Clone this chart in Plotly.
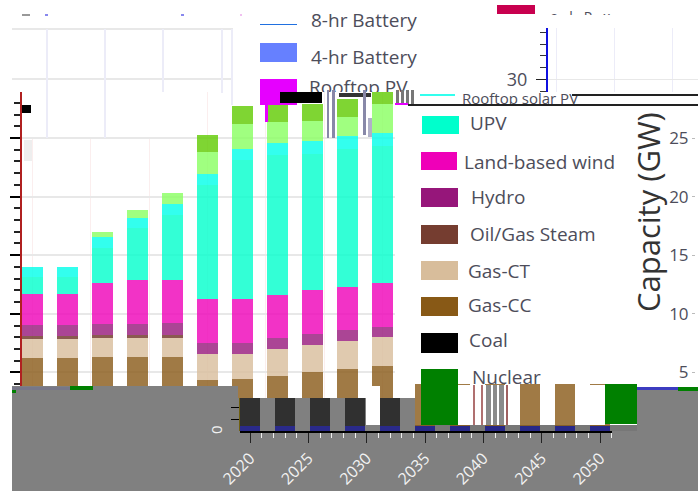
import plotly.graph_objects as go

# ---------- data (GW, stacked increments) ----------
years = [2020, 2023, 2026, 2029, 2032, 2035, 2038, 2041, 2044, 2047, 2050]
nuclear = [0.45] * 11
coal = [2.35, 2.35, 2.35, 2.35, 2.35, 0, 0, 0, 0, 0, 0]
gas_cc = [3.46, 3.46, 3.52, 3.52, 3.55, 3.91, 3.96, 4.25, 4.59, 4.87, 5.13]
gas_ct = [1.57, 1.57, 1.59, 1.59, 1.56, 2.21, 2.16, 2.30, 2.27, 2.36, 2.42]
oil_gas = [0.31, 0.31, 0.29, 0.29, 0.29, 0, 0, 0, 0, 0, 0]
hydro = [0.91, 0.91, 0.96, 0.96, 0.99, 0.91, 0.97, 0.97, 0.94, 0.97, 0.91]
wind = [2.64, 2.64, 3.50, 3.70, 3.67, 3.76, 3.70, 3.67, 3.76, 3.64, 3.69]
upv = [1.43, 1.43, 2.99, 4.47, 5.55, 9.76, 11.89, 11.91, 11.66, 11.75, 11.72]
solar_b = [0.85, 0.85, 0.88, 0.88, 0.99, 0.96, 0.96, 1.00, 1.08, 1.11, 1.11]
other_a = [0, 0, 0.43, 0.65, 0.91, 1.88, 2.14, 1.79, 1.68, 1.65, 2.45]
other_b = [0, 0, 0, 0, 0, 1.42, 1.53, 1.48, 1.50, 1.50, 1.08]

series = [
    ("Nuclear", nuclear, "#14148c"), ("Coal", coal, "#1c1c1c"),
    ("Gas-CC", gas_cc, "#885916"), ("Gas-CT", gas_ct, "#d8bd9b"),
    ("Oil/Gas Steam", oil_gas, "#6d3124"), ("Hydro", hydro, "#96167a"),
    ("Land-based wind", wind, "#ef00b8"), ("UPV", upv, "#00ffcc"),
    ("Rooftop PV", solar_b, "#00ffea"), ("Other A", other_a, "#88ff60"),
    ("Other B", other_b, "#5fcb00"),
]
year_ticks = [2020, 2025, 2030, 2035, 2040, 2045, 2050]

W, H = 698, 491
PX_YEAR = 35 / 3
PX_GW = 11.72
Y0 = 431
GREY = "#808080"
GRID = "#e8e8e8"
VGRID = "#ececf8"
TXT = "#4d4d5a"
FONT = "Open Sans, sans-serif"

fig = go.Figure()
layout = dict(
    width=W, height=H, autosize=False, showlegend=False, barmode="stack",
    margin=dict(l=0, r=0, t=0, b=0, pad=0),
    paper_bgcolor="white", plot_bgcolor="rgba(0,0,0,0)",
    font=dict(family=FONT, color=TXT),
)
n_axes = 0


def panel(px0, px1, py_top, py_bot, xrange, yrange, xopts=None, yopts=None):
    """Add one x/y axis pair placed by pixel box; returns its suffix."""
    global n_axes
    n_axes += 1
    s = "" if n_axes == 1 else str(n_axes)
    base = dict(visible=False, showgrid=False, zeroline=False, fixedrange=True, automargin=False)
    xa = dict(base, domain=[px0 / W, px1 / W], range=xrange, anchor="y" + s)
    ya = dict(base, domain=[1 - py_bot / H, 1 - py_top / H], range=yrange, anchor="x" + s)
    xa.update(xopts or {})
    ya.update(yopts or {})
    layout["xaxis" + s] = xa
    layout["yaxis" + s] = ya
    return s


def bars(s):
    for name, vals, col in series:
        fig.add_bar(x=years, y=vals, name=name, width=1.75,
                    marker=dict(color=col, opacity=0.8, line=dict(width=0)),
                    xaxis="x" + s, yaxis="y" + s)


def year_at(px, px2020):
    return 2020 + (px - px2020) / PX_YEAR


def gw_at(py):
    return (Y0 - py) / PX_GW


# main stacked panel
s = panel(22, 395, 92, Y0, [year_at(22, 32.5), year_at(395, 32.5)], [0, gw_at(92)],
          dict(visible=True, showgrid=True, gridcolor="#fbeeee", dtick=5, tick0=2020,
               showticklabels=False, ticks="", showline=False),
          dict(visible=True, showgrid=True, gridcolor=GRID, gridwidth=1.5, tickvals=[5, 10, 15, 20, 25],
               showticklabels=False, ticks="outside", ticklen=10, tickcolor="black",
               tickwidth=1.5, showline=True, linecolor="#b02020", linewidth=2,
               minor=dict(dtick=1, ticks="outside", ticklen=6, tickcolor="#222", showgrid=False)))
bars(s)

# full-page pixel panel that holds the grey block, under the later panels
page = panel(0, W, 0, H, [0, W], [H, 0])
fig.add_scatter(x=[0], y=[0], mode="none", xaxis="x" + page, yaxis="y" + page)
below = [
    (23, 92, 197, 137, "white"), (219, 92, 232, 137, "white"),
    (12, 28, 233, 30, GRID), (12, 78, 233, 80, GRID),
    (46, 29, 48, 138, VGRID), (104, 29, 106, 138, VGRID), (162, 29, 164, 92, VGRID),
    (221, 29, 223, 93, VGRID), (231, 29, 233, 105, VGRID),
    (24, 140, 32, 161, "#eeeeee"),
    (22, 14, 30, 16, "#999999"), (45, 14, 48, 16, "#8888ee"), (181, 14, 184, 16, "#8888ee"),
    (240, 14, 242, 16, "#f0c0f0"),
    (12, 431, W, H, GREY), (12, 386, 238, 431, GREY), (238, 398, 415, 431, GREY),
    (366, 386, 380, 425, "white"), (415, 425, 640, 431, "#777777"),
    (637, 389, W, 431, GREY), (637, 387, 678, 390, "#3c3cc0"), (678, 387, W, 391, "#008000"),
    (12, 387, 70, 390, "#777788"), (70, 386, 93, 390, "#008000"), (12, 390, 16, 393, "#008000"),
]
shapes = [dict(type="rect", xref="x" + page, yref="y" + page, x0=a, y0=b, x1=c, y1=d,
               fillcolor=col, line=dict(width=0), layer="below") for a, b, c, d, col in below]

# displaced bar strips
s = panel(240, 415, 398, Y0, [year_at(240, 250), year_at(415, 250)], [0, gw_at(398)],
          None,
          dict(visible=True, showgrid=False, tickvals=[1, 2], showticklabels=False, ticks="outside",
               ticklen=8, tickcolor="black", showline=True, linecolor="#706010", linewidth=1))
bars(s)
s = panel(415, 640, 384, Y0, [year_at(415, 250), year_at(640, 250)], [0, gw_at(384)])
bars(s)

# displaced year axis
s = panel(240, 612, 429, Y0, [year_at(240, 250), year_at(612, 250)], [0, 1],
          dict(visible=True, tickvals=year_ticks, ticktext=[str(v) for v in year_ticks],
               tickangle=-45, ticks="outside", ticklen=10, tickcolor="#222", showline=True,
               linecolor="black", linewidth=1.5,
               tickfont=dict(size=16, color="#f2f2f2", family=FONT),
               minor=dict(dtick=1, ticks="outside", ticklen=5, tickcolor="#eee")))
fig.add_scatter(x=[2020], y=[0], mode="none", xaxis="x" + s, yaxis="y" + s)

# displaced axis fragment, top right
s = panel(548, W, 28, 92, [year_at(548, 556), year_at(W, 556)], [gw_at(92), gw_at(28)],
          dict(visible=True, showgrid=True, gridcolor=VGRID, dtick=5, tick0=2020,
               showticklabels=False, ticks="", showline=False),
          dict(visible=True, tickvals=[30], ticks="outside", ticklen=10, tickcolor="#222",
               showline=True, linecolor="#1010e0", linewidth=2, showgrid=True, gridcolor=GRID,
               tickfont=dict(size=18, color=TXT), ticklabelstandoff=5,
               minor=dict(dtick=1, ticks="outside", ticklen=6, tickcolor="#333")))
fig.add_scatter(x=[2020], y=[30], mode="none", xaxis="x" + s, yaxis="y" + s)

# right-hand tick labels
s = panel(696, 698, 92, Y0, [0, 1], [0, gw_at(92)], None,
          dict(visible=True, tickvals=[5, 10, 15, 20, 25], ticks="outside", ticklen=3,
               tickcolor="#bbb", showline=False, tickfont=dict(size=17, color=TXT)))
fig.add_scatter(x=[0], y=[5], mode="none", xaxis="x" + s, yaxis="y" + s)

# legend text blocks, clipped by their panels like the reference
legend_main = [("UPV", 470, 125.5), ("Land-based wind", 464, 164.5), ("Hydro", 471, 199.5),
               ("Oil/Gas Steam", 470, 236.5), ("Gas-CT", 468, 273.5), ("Gas-CC", 468, 307.5),
               ("Coal", 469, 342.5), ("Nuclear", 472, 379.5)]
legend_top = [("8-hr Battery", 311, 22.5), ("4-hr Battery", 311, 59.5), ("Rooftop PV", 309, 89.5)]
legend_crim = [("o   l   P   x   -   -   -", 550, 18)]
legend_cut = [("Rooftop solar PV", 462, 100)]
for items, box, size in [(legend_main, (460, 105, 640, 385), 19), (legend_top, (300, 14, 420, 92), 19),
                         (legend_crim, (545, 5, W, 15), 14), (legend_cut, (460, 92, 592, 104), 15)]:
    s = panel(box[0], box[2], box[1], box[3], [box[0], box[2]], [box[3], box[1]])
    fig.add_scatter(x=[i[1] for i in items], y=[i[2] for i in items], text=[i[0] for i in items],
                    mode="text", textposition="middle right",
                    textfont=dict(size=size, color=TXT, family=FONT),
                    cliponaxis=True, xaxis="x" + s, yaxis="y" + s)

# rotated texts
layout["annotations"] = [
    dict(text="0", x=216 / W, y=1 - 430 / H, xref="paper", yref="paper", showarrow=False,
         xanchor="center", yanchor="middle", textangle=-90, font=dict(size=15, color="#f2f2f2")),
    dict(text="Capacity (GW)", x=648 / W, y=1 - 212 / H, xref="paper", yref="paper", showarrow=False,
         xanchor="center", yanchor="middle", textangle=-90, font=dict(size=31, color="#333333")),
]

# overlay pieces above the plotted marks, pixel boxes
swatches = [
    (422, 116, 459, 134, "#00ffcc"), (421, 152, 457, 170, "#ef00b8"), (421, 188, 458, 207, "#96167a"),
    (421, 225, 458, 244, "#753d30"), (421, 261, 458, 280, "#d8bd9b"), (421, 297, 458, 316, "#885916"),
    (421, 333, 458, 353, "#000000"), (421, 369, 458, 425, "#008000"),
    (260, 43, 297, 62, "#6680ff"), (260, 79, 297, 105, "#e600ff"), (265, 105, 268, 122, "#e600ff"),
    (260, 24, 297, 25, "#2070e0"), (497, 5, 535, 14, "#c8004f"),
    (458, 385, 515, 425, "white"), (576, 385, 605, 425, "white"), (605, 384, 637, 424, "#008000"),
    (280, 92, 322, 103, "#000000"), (339, 93, 371, 97, "#333333"),
    (22, 105, 31, 113, "#000000"), (420, 94, 455, 96, "#33ffee"),
    (408, 104, W, 106, "#222222"), (572, 94, W, 96, "#222222"),
    (327, 90, 329, 138, "#8888a8"), (332, 90, 335, 138, "#8888a8"),
    (363, 90, 366, 135, "#8888a8"), (368, 118, 372, 137, "#b0b0c8"),
    (396, 90, 399, 104, "#777777"), (401, 90, 404, 104, "#777777"), (406, 90, 409, 104, "#777777"),
    (411, 90, 414, 104, "#777777"), (395, 103, 408, 105, "#e600ff"),
    (473, 385, 475, 425, "#b07070"), (481, 385, 483, 425, "#b07070"), (486, 385, 491, 425, "#8a8a8a"),
    (493, 385, 497, 425, "#8a8a8a"), (499, 385, 504, 425, "#8a8a8a"), (506, 385, 508, 425, "#a06060"),
]
for a, b, c, d, col in swatches:
    shapes.append(dict(type="rect", xref="paper", yref="paper", x0=a / W, x1=c / W,
                       y0=1 - b / H, y1=1 - d / H, fillcolor=col, line=dict(width=0), layer="above"))
layout["shapes"] = shapes
fig.update_layout(**layout)
fig.write_html("out.html", config=dict(displayModeBar=False),
               post_script="document.body.style.margin='0';")
